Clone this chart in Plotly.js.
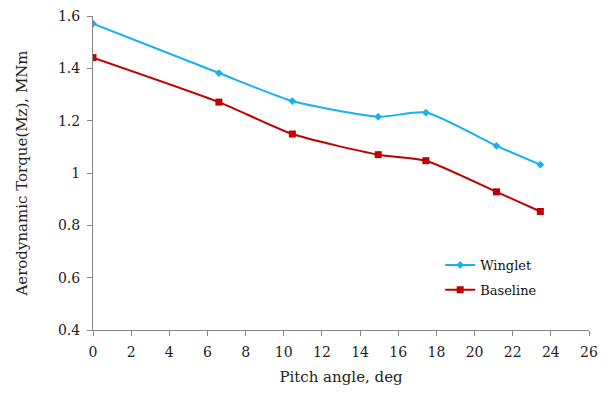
<!DOCTYPE html>
<html><head><meta charset="utf-8">
<script src="https://cdn.plot.ly/plotly-3.0.1.min.js"></script>
<style>html,body{margin:0;padding:0;background:#fff}#c{width:611px;height:393px}</style>
</head><body><div id="c"></div>
<script>
const pitchAngle = [0, 6.6, 10.45, 14.95, 17.45, 21.15, 23.45];
const wingletTorque = [1.571, 1.382, 1.275, 1.215, 1.231, 1.104, 1.032];
const baselineTorque = [1.441, 1.271, 1.149, 1.070, 1.047, 0.928, 0.853];
const xTicks = [0,2,4,6,8,10,12,14,16,18,20,22,24,26];
const yTicks = [0.4,0.6,0.8,1.0,1.2,1.4,1.6];
const yTickText = ['0.4','0.6','0.8','1','1.2','1.4','1.6'];

const font = 'Georgia, "DejaVu Serif", "Liberation Serif", serif';
const traces = [
  {x: pitchAngle, y: wingletTorque, name: 'Winglet', mode: 'lines+markers', legendgroup: 'a',
   line: {color: '#17b2ee', width: 2, shape: 'spline', smoothing: 0.6},
   marker: {symbol: 'diamond', size: 6, color: '#17b2ee'}},
  {x: pitchAngle, y: baselineTorque, name: 'Baseline', mode: 'lines+markers', legendgroup: 'b',
   line: {color: '#c00000', width: 2, shape: 'spline', smoothing: 0.6},
   marker: {symbol: 'square', size: 7, color: '#c00000'}}
];
const layout = {
  width: 611, height: 393,
  margin: {l: 93, r: 22, t: 16, b: 63},
  paper_bgcolor: '#fff', plot_bgcolor: '#fff',
  font: {family: font, size: 14, color: '#222'},
  showlegend: true,
  legend: {x: 0.70, y: 0.255, xanchor: 'left', yanchor: 'top', bgcolor: 'rgba(0,0,0,0)',
           font: {family: font, size: 13, color: '#111'}, tracegroupgap: 5, itemwidth: 30},
  xaxis: {range: [0, 26], tickvals: xTicks, ticktext: xTicks.map(String),
          showgrid: false, zeroline: false, showline: true, linecolor: '#868686', linewidth: 1,
          ticks: 'outside', ticklen: 5, tickcolor: '#868686', ticklabelstandoff: 4,
          tickfont: {family: font, size: 14, color: '#222'},
          title: {text: 'Pitch angle, deg', font: {family: font, size: 15, color: '#222'}, standoff: 12}},
  yaxis: {range: [0.4, 1.6], tickvals: yTicks, ticktext: yTickText,
          showgrid: false, zeroline: false, showline: true, linecolor: '#868686', linewidth: 1,
          ticks: 'outside', ticklen: 5, tickcolor: '#868686', ticklabelstandoff: 4,
          tickfont: {family: font, size: 14, color: '#222'},
          title: {text: 'Aerodynamic Torque(Mz), MNm', font: {family: font, size: 15, color: '#222'}, standoff: 26}}
};
Plotly.newPlot('c', traces, layout, {staticPlot: true, displayModeBar: false});
</script></body></html>
